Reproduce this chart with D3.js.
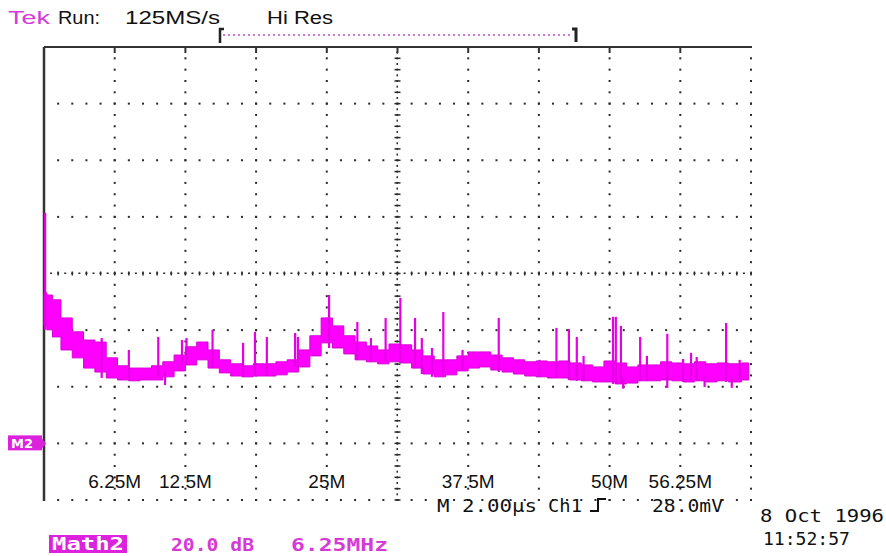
<!DOCTYPE html>
<html>
<head>
<meta charset="utf-8">
<script src="https://cdn.jsdelivr.net/npm/d3@7"></script>
<style>
  body { margin: 0; background: #fff; }
  svg { display: block; }
</style>
</head>
<body>
<div id="scope"></div>
<script>
// Math2 = FFT of Ch1, 20 dB/div, 6.25 MHz/div (levels in dB above the M2 marker)
var envFreq = [0, 0.5, 1, 2, 3, 4, 5, 6, 7, 8, 9, 10, 11, 12, 13, 14, 15, 16, 17, 18, 19, 20,
  21, 22, 23, 24, 25, 26, 27, 28, 29, 30, 31, 32, 33, 34, 35, 36, 37, 38, 39, 40,
  41, 42, 43, 44, 45, 46, 47, 48, 49, 50, 51, 52, 53, 54, 55, 56, 57, 58, 59, 60, 61, 62.3];
var envTop = [53.2, 52.4, 50.7, 44.3, 39.4, 36.5, 35.8, 30.2, 27.4, 26.6, 26.6, 27.4, 28.8, 31.2,
  34.1, 35.8, 33.0, 29.5, 28.1, 27.4, 28.1, 28.1, 28.8, 29.5, 33.0, 38.0, 44.3, 41.5, 38.0, 35.8,
  34.4, 33.0, 35.1, 34.8, 33.0, 30.9, 29.5, 29.5, 30.9, 32.3, 32.3, 31.2, 30.2, 29.5, 28.8, 29.1,
  28.8, 29.1, 28.4, 27.7, 27.0, 29.1, 28.4, 27.0, 27.7, 27.7, 28.8, 28.4, 28.1, 28.8, 28.1, 28.4,
  28.1, 28.4];
var envBottom = [41.8, 40.1, 37.6, 33.0, 30.2, 26.6, 25.2, 23.1, 22.4, 22.1, 22.4, 22.4, 23.5, 25.6,
  27.7, 29.5, 26.6, 24.9, 23.8, 23.5, 23.8, 23.8, 24.2, 25.2, 27.0, 30.9, 35.5, 33.7, 31.6, 29.5,
  28.8, 28.1, 28.8, 28.4, 26.6, 24.5, 23.5, 24.2, 25.6, 26.6, 27.0, 25.9, 25.2, 24.5, 23.8, 23.5,
  23.1, 23.1, 22.4, 22.1, 21.7, 21.7, 21.0, 21.3, 22.1, 22.1, 22.4, 22.1, 21.7, 22.1, 21.7, 22.1,
  21.7, 22.4];

var spikeFreq = [0.1, 5.1, 7.5, 10.1, 12.2, 12.6, 14.9, 17.6, 18.65, 19.7, 22.2, 22.45, 25.2, 27.7,
  28.9, 30.2, 31.5, 32.8, 33.4, 34.3, 35.3, 37.0, 40.2, 43.8, 45.3, 46.4, 47.1, 47.7, 50.3, 50.55,
  51.0, 52.7, 53.3, 55.1, 56.5, 57.2, 57.7, 60.3, 61.5];
var spikeLevel = [81.4, 37.2, 33.0, 37.6, 36.5, 37.2, 40.1, 35.5, 39.4, 37.6, 39.0, 37.6, 52.4, 42.9,
  37.2, 44.3, 51.4, 44.3, 37.2, 33.7, 46.4, 33.0, 44.3, 29.5, 40.8, 40.4, 37.6, 30.9, 44.7, 44.7,
  41.5, 37.6, 30.9, 38.7, 29.8, 32.0, 30.5, 42.5, 29.5];
var dipFreq = [10.7, 51.2, 55.1, 58.4, 60.8];
var dipLevel = [20.6, 19.3, 19.6, 19.9, 19.6];

var freqTicks = [6.25, 12.5, 25, 37.5, 50, 56.25];
var freqLabels = ["6.25M", "12.5M", "25M", "37.5M", "50M", "56.25M"];

var W = 886, H = 556;
var x = d3.scaleLinear().domain([0, 62.5]).range([44, 751]);
var y = d3.scaleLinear().domain([-20, 140]).range([500, 47]);

var svg = d3.select("#scope").append("svg")
  .attr("width", W).attr("height", H);

var ink = "#2a2a2a", mag = "#ff00ff", magText = "#d63ad6";

// graticule
var grid = svg.append("g");
var majorX = d3.range(0, 62.5 + 0.01, 6.25);
var minorX = d3.range(0, 62.5 + 0.01, 1.25);
var majorY = d3.range(-20, 140 + 0.01, 20);
var minorY = d3.range(-20, 140 + 0.01, 4);

majorY.filter(function (v) { return v < 140 && v !== 60; }).forEach(function (v) {
  grid.selectAll(null).data(minorX.slice(1)).enter().append("rect")
    .attr("x", function (d) { return x(d) - 1; })
    .attr("y", y(v) - 1)
    .attr("width", 2).attr("height", 2).attr("fill", ink);
});
majorX.slice(1).filter(function (v) { return v !== 31.25; }).forEach(function (v) {
  grid.selectAll(null).data(minorY.slice(0, -1)).enter().append("rect")
    .attr("x", x(v) - 1)
    .attr("y", function (d) { return y(d) - 1; })
    .attr("width", 2).attr("height", 2).attr("fill", ink);
});

// centre lines with small ticks
grid.selectAll(null).data(d3.range(0, 62.5 + 0.01, 1.25).slice(1)).enter().append("line")
  .attr("x1", function (d) { return x(d); }).attr("x2", function (d) { return x(d); })
  .attr("y1", y(60) - 2).attr("y2", y(60) + 2)
  .attr("stroke", ink).attr("stroke-width", 1.5);
grid.selectAll(null).data(d3.range(0, 62.5 + 0.01, 0.625).slice(1)).enter().append("rect")
  .attr("x", function (d) { return x(d) - 1; }).attr("y", y(60) - 1)
  .attr("width", 2).attr("height", 1.5).attr("fill", ink);
grid.selectAll(null).data(minorY.slice(0, -1)).enter().append("line")
  .attr("x1", x(31.25) - 3).attr("x2", x(31.25) + 3)
  .attr("y1", function (d) { return y(d); }).attr("y2", function (d) { return y(d); })
  .attr("stroke", ink).attr("stroke-width", 1.5);
grid.selectAll(null).data(d3.range(-20, 140, 2)).enter().append("rect")
  .attr("x", x(31.25) - 1).attr("y", function (d) { return y(d) - 1; })
  .attr("width", 1.5).attr("height", 2).attr("fill", ink);

// frame: top line and left axis
svg.append("line").attr("x1", x(0)).attr("x2", x(62.5) + 1)
  .attr("y1", y(140)).attr("y2", y(140))
  .attr("stroke", "#333").attr("stroke-width", 2);
svg.append("line").attr("x1", x(0)).attr("x2", x(0))
  .attr("y1", y(140)).attr("y2", y(-20) + 1)
  .attr("stroke", "#333").attr("stroke-width", 2.5);
svg.append("g").selectAll("line").data(majorX.slice(1, -1)).enter().append("line")
  .attr("x1", function (d) { return x(d); }).attr("x2", function (d) { return x(d); })
  .attr("y1", y(140)).attr("y2", y(140) + 6)
  .attr("stroke", "#333").attr("stroke-width", 2);

// trace
var env = envFreq.map(function (f, i) { return { f: f, top: envTop[i], bot: envBottom[i] }; });
var trace = svg.append("g");
trace.append("path").datum(env)
  .attr("fill", mag).attr("stroke", "#d400d4").attr("stroke-width", 1)
  .attr("d", d3.area().curve(d3.curveStep)
    .x(function (d) { return x(d.f); })
    .y0(function (d) { return y(d.bot); })
    .y1(function (d) { return y(d.top); }));

function bottomAt(f) {
  var i = d3.bisectLeft(envFreq, f);
  i = Math.min(i, envFreq.length - 1);
  return envBottom[i];
}
trace.selectAll(null).data(spikeFreq).enter().append("line")
  .attr("x1", function (d) { return x(d); }).attr("x2", function (d) { return x(d); })
  .attr("y1", function (d, i) { return y(spikeLevel[i]); })
  .attr("y2", function (d) { return y(bottomAt(d)); })
  .attr("stroke", "#e600e6").attr("stroke-width", 2.2);
trace.selectAll(null).data(dipFreq).enter().append("line")
  .attr("x1", function (d) { return x(d); }).attr("x2", function (d) { return x(d); })
  .attr("y1", function (d, i) { return y(dipLevel[i]); })
  .attr("y2", function (d) { return y(bottomAt(d) + 2); })
  .attr("stroke", "#e600e6").attr("stroke-width", 2.2);

// M2 ground marker
svg.append("rect").attr("x", 8).attr("y", y(0) - 8).attr("width", 34).attr("height", 15)
  .attr("fill", "#dd22dd");
svg.append("path")
  .attr("d", "M42," + (y(0) - 5) + "L46," + y(0) + "L42," + (y(0) + 5) + "Z")
  .attr("fill", "#dd22dd");
svg.append("text").attr("x", 11).attr("y", y(0) + 5)
  .attr("font-family", "DejaVu Sans").attr("font-weight", "bold").attr("font-size", 13)
  .attr("fill", "#fff").text("M2");

// frequency labels
svg.append("g").selectAll("text").data(freqTicks).enter().append("text")
  .attr("x", function (d) { return x(d); }).attr("y", 488)
  .attr("text-anchor", "middle")
  .attr("font-family", "Liberation Sans, Arial, sans-serif").attr("font-size", 19)
  .attr("fill", "#111")
  .text(function (d, i) { return freqLabels[i]; });

// header
function label(t, px, py, len, opts) {
  opts = opts || {};
  return svg.append("text").attr("x", px).attr("y", py)
    .attr("font-family", opts.family || "Liberation Sans, Arial, sans-serif")
    .attr("font-size", opts.size || 18)
    .attr("font-weight", opts.weight || "normal")
    .attr("fill", opts.fill || "#111")
    .attr("textLength", len).attr("lengthAdjust", "spacingAndGlyphs")
    .text(t);
}
label("Tek", 8, 24, 42, { fill: magText });
label("Run:", 58, 24, 42);
label("125MS/s", 125, 24, 95);
label("Hi Res", 267, 24, 66);

// trigger / record bracket
svg.append("line").attr("x1", 223).attr("x2", 572).attr("y1", 35).attr("y2", 35)
  .attr("stroke", "#c050c0").attr("stroke-width", 1.5).attr("stroke-dasharray", "2,3");
svg.append("path").attr("d", "M224,29L220,29L220,43").attr("fill", "none")
  .attr("stroke", "#222").attr("stroke-width", 2.5);
svg.append("path").attr("d", "M572,29L576,29L576,42").attr("fill", "none")
  .attr("stroke", "#222").attr("stroke-width", 3);

// status lines
var mono = { family: "DejaVu Sans Mono, monospace", size: 17 };
label("M 2.00\u00b5s", 437, 512, 100, mono);
label("Ch1", 548, 512, 34, mono);
svg.append("path").attr("d", "M590,511L598,511L598,499L606,499").attr("fill", "none")
  .attr("stroke", "#111").attr("stroke-width", 2);
label("28.0mV", 652, 512, 71, mono);
label("8 Oct 1996", 760, 522, 124, mono);
label("11:52:57", 763, 545, 87, mono);

svg.append("rect").attr("x", 49).attr("y", 535).attr("width", 78).attr("height", 18)
  .attr("fill", "#dd22dd");
label("Math2", 52, 550, 72, { family: "DejaVu Sans Mono, monospace", size: 17, weight: "bold", fill: "#fff" });
label("20.0 dB", 171, 551, 83, { family: "DejaVu Sans Mono, monospace", size: 17, weight: "bold", fill: magText });
label("6.25MHz", 291, 551, 97, { family: "DejaVu Sans Mono, monospace", size: 17, weight: "bold", fill: magText });
</script>
</body>
</html>
